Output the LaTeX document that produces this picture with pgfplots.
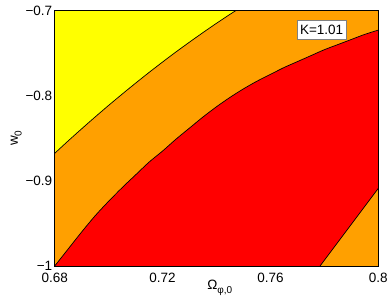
\documentclass[border=0pt]{standalone}
\usepackage{pgfplots}
\pgfplotsset{compat=1.18}
\usepackage{fontspec}
\setmainfont{Liberation Sans}
\definecolor{myorange}{RGB}{255,160,0}
\definecolor{myyellow}{RGB}{255,255,0}
\definecolor{myred}{RGB}{255,0,0}
\newcommand{\fs}{\fontsize{13.5}{16}\selectfont}
\begin{document}
\begin{tikzpicture}
\begin{axis}[
  scale only axis, width=323.6pt, height=255.5pt,
  xmin=0.68, xmax=0.8, ymin=-1, ymax=-0.7,
  xtick={0.68,0.72,0.76,0.8}, xticklabels={0.68,0.72,0.76,0.8},
  ytick={-1,-0.9,-0.8,-0.7}, yticklabels={−1,−0.9,−0.8,−0.7},
  major tick length=0pt,
  axis background/.style={fill=myorange},
  axis on top,
  axis line style={line width=0.8pt, black},
  tick label style={font=\fs},
  xticklabel style={yshift=-4pt},
  yticklabel style={xshift=1pt},
  xlabel={Ω\raisebox{-0.55ex}{\fontsize{10}{12}\selectfont φ,0}},
  xlabel style={at={(axis description cs:0.51,0)}, anchor=north, inner sep=0pt, yshift=-14pt, font=\fs},
  ylabel={w\raisebox{-0.55ex}{\fontsize{10}{12}\selectfont 0}},
  ylabel style={at={(axis description cs:-0.101,0.5)}, anchor=south, inner sep=0pt, font=\fs},
]
% yellow region
\addplot[fill=myyellow, draw=none] coordinates {
(0.68,-0.7) (0.68,-0.8677) (0.685,-0.8531) (0.690,-0.8389) (0.695,-0.8250)
(0.700,-0.8114) (0.705,-0.7982) (0.710,-0.7853) (0.715,-0.7727) (0.720,-0.7605)
(0.725,-0.7486) (0.730,-0.7371) (0.735,-0.7259) (0.740,-0.7150) (0.745,-0.7045)
(0.7472,-0.7)} -- cycle;
% red region
\addplot[fill=myred, draw=none] coordinates {
(0.680,-1.000) (0.685,-0.980) (0.690,-0.960) (0.695,-0.941) (0.700,-0.924)
(0.705,-0.908) (0.710,-0.893) (0.715,-0.878) (0.720,-0.865) (0.725,-0.851)
(0.730,-0.838) (0.735,-0.825) (0.740,-0.813) (0.745,-0.802) (0.750,-0.792)
(0.755,-0.783) (0.760,-0.775) (0.765,-0.767) (0.770,-0.760) (0.775,-0.753)
(0.780,-0.746) (0.785,-0.740) (0.790,-0.734) (0.795,-0.728) (0.800,-0.723)
(0.800,-0.9088) (0.7893,-0.9539) (0.7784,-1.000)} -- cycle;
% contour lines
\addplot[black, line width=0.7pt, smooth] coordinates {
(0.68,-0.8677) (0.685,-0.8531) (0.690,-0.8389) (0.695,-0.8250)
(0.700,-0.8114) (0.705,-0.7982) (0.710,-0.7853) (0.715,-0.7727) (0.720,-0.7605)
(0.725,-0.7486) (0.730,-0.7371) (0.735,-0.7259) (0.740,-0.7150) (0.745,-0.7045)
(0.7472,-0.7)};
\addplot[black, line width=0.7pt, smooth] coordinates {
(0.680,-1.000) (0.685,-0.980) (0.690,-0.960) (0.695,-0.941) (0.700,-0.924)
(0.705,-0.908) (0.710,-0.893) (0.715,-0.878) (0.720,-0.865) (0.725,-0.851)
(0.730,-0.838) (0.735,-0.825) (0.740,-0.813) (0.745,-0.802) (0.750,-0.792)
(0.755,-0.783) (0.760,-0.775) (0.765,-0.767) (0.770,-0.760) (0.775,-0.753)
(0.780,-0.746) (0.785,-0.740) (0.790,-0.734) (0.795,-0.728) (0.800,-0.723)};
\addplot[black, line width=0.7pt] coordinates {
(0.7784,-1.000) (0.7893,-0.9539) (0.800,-0.9088)};
\node[draw=gray, line width=0.6pt, fill=white, inner sep=0pt, minimum width=48.6pt, minimum height=19pt, font=\fs] at (axis cs:0.7790,-0.7222) {K=1.01};
\end{axis}
\path ([shift={(-54.7pt,-34pt)}]current axis.south west) rectangle ([shift={(13.7pt,10.5pt)}]current axis.north east);
\end{tikzpicture}
\end{document}
